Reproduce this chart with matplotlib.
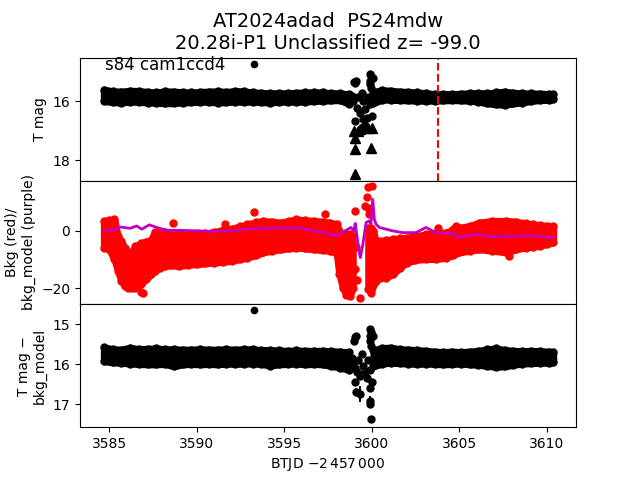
import numpy as np
import matplotlib
matplotlib.use('Agg')
import matplotlib.pyplot as plt

# ---- time grids (BTJD - 2457000) for the dense light-curve band ----
t_a = [3584.7, 3585.2, 3585.7, 3586.2, 3586.7, 3587.2, 3587.7, 3588.2, 3588.7, 3589.2,
       3589.7, 3590.2, 3590.7, 3591.2, 3591.7, 3592.2, 3592.7, 3593.2, 3593.7, 3594.2,
       3594.7, 3595.2, 3595.7, 3596.2, 3596.7, 3597.2, 3597.7, 3598.2, 3598.7]
t_b = [3600.1, 3600.6, 3601.1, 3601.6, 3602.1, 3602.6, 3603.1, 3603.6, 3604.1, 3604.6,
       3605.1, 3605.6, 3606.1, 3606.6, 3607.1, 3607.6, 3608.1, 3608.6, 3609.1, 3609.6,
       3610.1, 3610.37]

# T mag band (upper / lower edge of the scatter)
mag_hi_a = [15.60, 15.66, 15.67, 15.64, 15.65, 15.68, 15.70, 15.66, 15.67, 15.69,
            15.70, 15.68, 15.67, 15.66, 15.68, 15.65, 15.66, 15.70, 15.71, 15.73,
            15.72, 15.73, 15.71, 15.70, 15.69, 15.70, 15.72, 15.73, 15.76]
mag_lo_a = [15.99, 16.03, 16.04, 16.01, 16.02, 16.04, 16.05, 16.07, 16.06, 16.04,
            16.03, 16.01, 16.02, 16.04, 16.03, 16.01, 16.02, 16.01, 16.03, 16.04,
            16.02, 16.01, 16.02, 16.01, 15.99, 15.98, 15.97, 15.96, 16.09]
mag_hi_b = [15.68, 15.62, 15.64, 15.67, 15.68, 15.70, 15.72, 15.76, 15.75, 15.76,
            15.74, 15.73, 15.72, 15.73, 15.70, 15.67, 15.71, 15.73, 15.73, 15.74,
            15.75, 15.76]
mag_lo_b = [16.06, 15.94, 15.95, 15.96, 15.97, 15.98, 15.98, 15.98, 15.97, 15.96,
            15.97, 15.98, 16.01, 16.07, 16.10, 16.12, 16.07, 16.04, 15.99, 15.96,
            15.95, 15.93]

# T mag - bkg_model band
sub_hi_a = [15.58, 15.63, 15.64, 15.59, 15.63, 15.62, 15.61, 15.63, 15.63, 15.64,
            15.64, 15.63, 15.64, 15.64, 15.63, 15.64, 15.63, 15.63, 15.65, 15.65,
            15.66, 15.67, 15.66, 15.67, 15.67, 15.67, 15.68, 15.69, 15.71]
sub_lo_a = [15.93, 15.96, 15.97, 15.99, 16.00, 16.01, 16.01, 16.00, 16.06, 16.01,
            16.00, 16.01, 16.00, 16.01, 15.99, 16.00, 15.99, 15.99, 16.00, 16.04,
            16.01, 16.00, 15.99, 16.01, 16.00, 16.01, 16.05, 16.09, 16.15]
sub_hi_b = [15.65, 15.60, 15.59, 15.63, 15.64, 15.65, 15.67, 15.69, 15.70, 15.69,
            15.70, 15.69, 15.67, 15.63, 15.61, 15.65, 15.67, 15.68, 15.67, 15.68,
            15.69, 15.70]
sub_lo_b = [16.06, 15.99, 15.97, 15.98, 15.99, 16.00, 15.99, 16.00, 16.01, 16.00,
            15.99, 16.01, 16.02, 16.05, 16.07, 16.06, 16.02, 15.99, 15.98, 15.97,
            15.97, 15.96]

# scattered points around the gap (3599 - 3600)
gap_t = [3598.86, 3598.95, 3599.24, 3599.43, 3599.52, 3599.14, 3599.33, 3599.62,
         3599.71, 3599.81, 3599.90, 3600.00, 3599.05, 3599.52]
gap_mag = [15.82, 15.99, 15.87, 15.71, 15.99, 16.21, 16.38, 16.27,
           16.55, 15.87, 16.10, 16.50, 16.66, 16.60]
gap_sub = [15.85, 16.00, 15.90, 15.75, 16.05, 16.20, 16.30, 16.20,
           16.35, 15.90, 16.15, 16.45, 16.10, 16.25]
bright_t = [3598.99, 3599.05, 3599.12, 3599.90, 3599.95, 3600.08, 3599.90, 3599.92, 3599.95]
bright_mag = [15.33, 15.37, 15.30, 15.08, 15.15, 15.20, 15.30, 15.42, 15.55]
bright_sub = [15.42, 15.33, 15.29, 15.13, 15.20, 15.29, 15.29, 15.42, 15.54]

# upper limits (triangles) in T mag
lim_t = [3598.99, 3599.05, 3599.05, 3599.05, 3599.20, 3599.33, 3599.52, 3599.62,
         3599.81, 3600.00, 3599.94]
lim_mag = [17.00, 17.23, 17.63, 18.47, 17.00, 16.95, 16.85, 16.78, 16.90, 16.89, 17.57]

# faint tail points in T mag - bkg_model, with errors
tail_t = [3599.05, 3599.10, 3599.33, 3599.90, 3599.93, 3599.93, 3599.95]
tail_sub = [16.46, 16.71, 16.75, 16.60, 16.92, 17.00, 17.38]
tail_err = [0.08, 0.10, 0.20, 0.10, 0.12, 0.10, 0.08]

# single outlier
out_t = [3593.25]
out_mag = [14.73]
out_sub = [14.65]

# background (red) band
bkg_t_a = [3584.7, 3585.0, 3585.3, 3585.5, 3585.7, 3585.9, 3586.1, 3586.3, 3586.5, 3586.8,
           3587.1, 3587.4, 3587.6, 3587.9, 3588.2, 3588.6, 3589.0, 3589.5, 3590.0, 3590.5,
           3591.0, 3591.5, 3592.0, 3592.5, 3592.9, 3593.4, 3593.8, 3594.3, 3594.8, 3595.3,
           3595.7, 3596.2, 3596.7, 3597.2, 3597.6, 3598.0, 3598.15, 3598.35, 3598.55, 3598.75,
           3598.92]
bkg_hi_a = [3.4, 3.8, 4.0, -1.9, -3.6, -6.1, -7.8, -7.2, -5.4, -4.3,
            -3.7, -3.2, -0.4, -0.6, -0.4, -0.8, -0.6, -1.0, -0.8, -0.9,
            -0.4, 0.3, 0.8, 1.6, 2.3, 3.0, 3.5, 3.2, 2.9, 3.5,
            4.0, 3.7, 3.5, 3.2, 2.9, 2.3, 0.0, -1.2, -1.2, -1.2, -1.8]
bkg_lo_a = [-5.8, -6.4, -9.8, -13.8, -17.4, -19.2, -19.7, -19.8, -19.7, -18.6,
            -16.8, -15.1, -13.8, -12.8, -12.2, -12.0, -12.2, -11.8, -11.6, -11.3,
            -11.0, -10.8, -10.4, -9.8, -9.3, -8.4, -7.5, -6.9, -6.4, -6.1,
            -5.8, -6.1, -6.4, -6.7, -6.9, -7.8, -15.1, -19.7, -22.1, -22.6, -19.8]
bkg_t_b = [3599.8, 3599.95, 3600.1, 3600.25, 3600.45, 3600.8, 3601.2, 3601.6, 3602.0, 3602.5,
           3603.1, 3603.7, 3604.25, 3604.65, 3605.0, 3605.6, 3606.15, 3606.9, 3607.7, 3608.25,
           3608.8, 3609.2, 3609.6, 3610.0, 3610.37]
bkg_hi_b = [1.1, 1.1, -0.2, -4.1, -3.5, -3.2, -2.9, -2.6, -2.4, -1.8,
            -1.2, -0.6, -0.6, 0.5, 1.1, 1.7, 2.9, 3.5, 3.5, 3.2,
            2.6, 2.3, 2.0, 1.8, 1.6]
bkg_lo_b = [-20.3, -21.5, -18.8, -17.4, -16.2, -16.2, -15.1, -12.8, -11.0, -10.1,
            -9.8, -9.8, -9.3, -8.4, -7.5, -6.9, -6.4, -6.9, -7.5, -6.4,
            -5.8, -5.5, -5.2, -4.6, -4.0]
bkg_out_t = [3586.85, 3586.96, 3588.64, 3591.62, 3593.28, 3597.34, 3599.07, 3599.10,
             3599.05, 3599.15, 3599.35, 3599.60, 3599.74, 3599.77, 3600.02, 3599.77,
             3599.87, 3603.77, 3604.82, 3607.86]
bkg_out = [-21.3, -21.5, 2.7, 2.3, 6.4, 5.8, 7.0, -5.5,
           -13.4, -17.0, -23.3, 8.7, 11.9, 15.4, 15.7, 8.1,
           5.8, 1.16, 1.74, -8.7]

# background model (purple)
model_t = [3584.7, 3585.25, 3585.55, 3585.82, 3586.2, 3586.58, 3586.87, 3587.3, 3587.72, 3588.3,
           3589.05, 3590.0, 3590.96, 3591.91, 3592.86, 3593.81, 3594.77, 3595.72, 3596.67, 3597.39,
           3597.96, 3598.53, 3598.82, 3598.97, 3599.06, 3599.25, 3599.35, 3599.5, 3599.68, 3599.87,
           3599.96, 3600.06, 3600.15, 3600.25, 3600.44, 3601.2, 3601.77, 3602.53, 3603.1, 3603.67,
           3604.63, 3605.0, 3605.58, 3606.15, 3606.72, 3607.86, 3608.81, 3609.77, 3610.37]
model_val = [0.0, 0.0, 1.4, 1.2, 0.9, 1.7, 0.6, 2.1, 1.2, 0.2,
             0.2, 0.0, -0.2, 0.0, 0.6, 0.9, 0.9, 1.2, 0.0, -0.6,
             -1.7, 0.2, 1.2, 0.0, 2.6, -5.8, -9.3, -4.6, 2.9, 3.5,
             2.3, 11.0, 4.1, 2.3, 1.2, 0.0, -0.6, -0.6, 1.2, -0.6,
             -0.9, -2.3, -1.5, -1.2, -2.0, -2.0, -1.5, -2.0, -2.3]

disc_t = 3603.8


def draw_band(ax, t, hi, lo, color):
    # dense cloud of points drawn as its envelope, stroked so the edge
    # sits one marker radius outside the typed centres
    ax.fill_between(t, lo, hi, facecolor=color, edgecolor=color, lw=5,
                    joinstyle='round')
    ax.plot(t, hi, 'o', color=color, ms=5)
    ax.plot(t, lo, 'o', color=color, ms=5)


fig, axes = plt.subplots(3, 1, sharex=True, figsize=(6.4, 4.8), dpi=100)
plt.subplots_adjust(hspace=0)
ax1, ax2, ax3 = axes

# top: T mag
draw_band(ax1, t_a, mag_hi_a, mag_lo_a, 'k')
draw_band(ax1, t_b, mag_hi_b, mag_lo_b, 'k')
ax1.errorbar(gap_t, gap_mag, yerr=0.06, fmt='ko', ms=5)
ax1.errorbar(bright_t, bright_mag, yerr=0.05, fmt='ko', ms=5)
ax1.plot(lim_t, lim_mag, 'k^', ms=6.5)
ax1.plot(out_t, out_mag, 'ko', ms=4.5)
ax1.axvline(disc_t, color='r', ls='--')
ax1.text(0.05, 0.9, 's84 cam1ccd4', transform=ax1.transAxes, fontsize=12)
ax1.set_ylim(18.69, 14.52)
ax1.set_yticks([16, 18])
ax1.set_ylabel('T mag')
ax1.set_title('AT2024adad  PS24mdw\n20.28i-P1 Unclassified z= -99.0', fontsize=14)

# middle: background
draw_band(ax2, bkg_t_a, bkg_hi_a, bkg_lo_a, 'r')
draw_band(ax2, bkg_t_b, bkg_hi_b, bkg_lo_b, 'r')
ax2.plot(bkg_out_t, bkg_out, 'ro', ms=5)
ax2.plot(model_t, model_val, color='m', lw=2)
ax2.set_ylim(-25.4, 17.4)
ax2.set_yticks([-20, 0])
ax2.set_ylabel('Bkg (red)/\nbkg_model (purple)')

# bottom: T mag - bkg_model
draw_band(ax3, t_a, sub_hi_a, sub_lo_a, 'k')
draw_band(ax3, t_b, sub_hi_b, sub_lo_b, 'k')
ax3.errorbar(gap_t, gap_sub, yerr=0.06, fmt='ko', ms=5)
ax3.errorbar(bright_t, bright_sub, yerr=0.05, fmt='ko', ms=5)
ax3.errorbar(tail_t, tail_sub, yerr=tail_err, fmt='ko', ms=5)
ax3.plot(out_t, out_sub, 'ko', ms=4.5)
ax3.set_ylim(17.58, 14.5)
ax3.set_yticks([15, 16, 17])
ax3.set_ylabel('T mag \u2212\nbkg_model')
ax3.set_xlim(3583.34, 3611.67)
ax3.set_xticks([3585, 3590, 3595, 3600, 3605, 3610])
ax3.set_xlabel(r'BTJD $-2\,457\,000$')

plt.savefig('out.png', dpi=100)
